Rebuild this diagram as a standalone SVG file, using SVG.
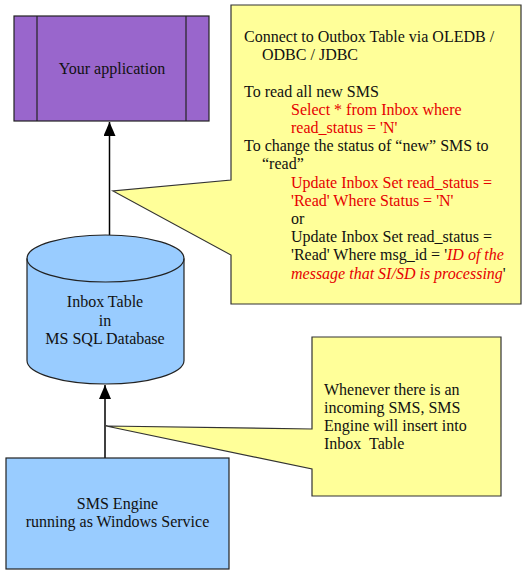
<svg xmlns="http://www.w3.org/2000/svg" width="530" height="576" viewBox="0 0 530 576">
<style>
text{font-family:"Liberation Serif","Times New Roman",serif;font-size:16px;fill:#111}
.c{text-anchor:middle}
.r{fill:#E60000}
.i{font-style:italic;fill:#E60000}
.box{stroke:#222;stroke-width:1.2}
.call{fill:#FFFF99;stroke:#333;stroke-width:1.2}
.conn{stroke:#000;stroke-width:1.5;fill:none}
</style>
<defs>
<marker id="ah" viewBox="0 0 14 12" refX="14" refY="6" markerWidth="14" markerHeight="12" orient="auto" markerUnits="userSpaceOnUse">
<path d="M0,0 L14,6 L0,12 Z" fill="#000"/>
</marker>
</defs>
<rect width="530" height="576" fill="#fff"/>
<g id="callout-read">
<path class="call" d="M231,5 H521 V304 H231 V255 L113,191 L231,180 Z"/>
<text x="244" y="42">Connect to Outbox Table via OLEDB /</text>
<text x="262" y="60.2">ODBC / JDBC</text>
<text x="244" y="96.6">To read all new SMS</text>
<text x="291" y="114.8" class="r">Select * from Inbox where</text>
<text x="291" y="133" class="r">read_status = 'N'</text>
<text x="244" y="151.2">To change the status of “new” SMS to</text>
<text x="262" y="169.4">“read”</text>
<text x="291" y="187.6" class="r">Update Inbox Set read_status =</text>
<text x="291" y="205.8" class="r">'Read' Where Status = 'N'</text>
<text x="291" y="224">or</text>
<text x="291" y="242.2">Update Inbox Set read_status =</text>
<text x="291" y="260.4">'Read' Where msg_id = '<tspan class="i">ID of the</tspan></text>
<text x="291" y="278.6"><tspan class="i">message that SI/SD is processing</tspan>'</text>
</g>
<g id="callout-insert">
<path class="call" d="M312,337 H501 V496 H312 V469 L106,426 L312,429 Z"/>
<text x="324" y="395">Whenever there is an</text>
<text x="324" y="413">incoming SMS, SMS</text>
<text x="324" y="431">Engine will insert into</text>
<text x="324" y="449" xml:space="preserve">Inbox  Table</text>
</g>
<g id="connectors">
<line class="conn" x1="109.5" y1="235" x2="109.5" y2="122" marker-end="url(#ah)"/>
<line class="conn" x1="105" y1="458" x2="105" y2="385" marker-end="url(#ah)"/>
</g>
<g id="your-application">
<rect class="box" x="14" y="16" width="195" height="105" fill="#9966CC"/>
<line class="box" x1="37" y1="16" x2="37" y2="121"/>
<line class="box" x1="186" y1="16" x2="186" y2="121"/>
<text class="c" x="112" y="74">Your application</text>
</g>
<g id="inbox-table">
<path class="box" fill="#99CCFF" d="M27,258.5 V360.5 A78.5,23.5 0 0 0 184,360.5 V258.5 A78.5,23.5 0 0 0 27,258.5 Z"/>
<path class="box" fill="none" d="M27,258.5 A78.5,23.5 0 0 0 184,258.5"/>
<text class="c" x="105" y="307">Inbox Table</text>
<text class="c" x="105" y="326">in</text>
<text class="c" x="105" y="344">MS SQL Database</text>
</g>
<g id="sms-engine">
<rect class="box" x="6" y="458" width="223" height="111" fill="#99CCFF"/>
<text class="c" x="117.5" y="509">SMS Engine</text>
<text class="c" x="117.5" y="527">running as Windows Service</text>
</g>
</svg>
